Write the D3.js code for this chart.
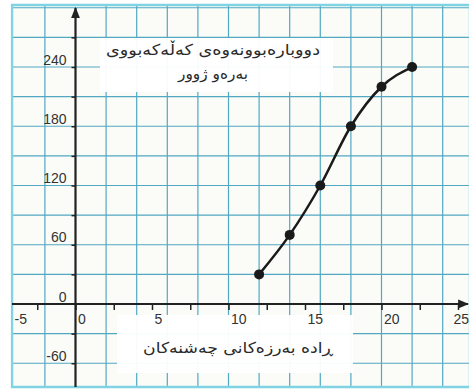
<!DOCTYPE html>
<html>
<head>
<meta charset="utf-8">
<script src="https://cdn.jsdelivr.net/npm/d3@7"></script>
<style>
  body { margin: 0; background: #fff; }
  svg { display: block; }
</style>
</head>
<body>
<svg id="chart" width="469" height="389"></svg>
<script>
// data
const rates = [12, 14, 16, 18, 20, 22];
const counts = [30, 70, 120, 180, 220, 240];
const xTickValues = [-5, -2.5, 0, 2.5, 5, 7.5, 10, 12.5, 15, 17.5, 20, 22.5, 25];
const xLabelValues = [-5, 0, 5, 10, 15, 20, 25];
const yTickValues = [-60, -30, 30, 60, 90, 120, 150, 180, 210, 240, 270];
const yLabelValues = [-60, 0, 60, 120, 180, 240];
const titleLines = ["دووبارەبوونەوەی کەڵەکەبووی", "بەرەو ژوور"];
const xTitle = "ڕادە بەرزەکانی چەشنەکان";

const svg = d3.select("#chart");

// scales
const x = d3.scaleLinear().domain([0, 25]).range([75.5, 458]);
const y = d3.scaleLinear().domain([0, 240]).range([304, 67]);

const frame = { left: 12, top: 5, right: 470, bottom: 387 };
const gridColor = "#52a7c3";

// paper
svg.append("rect")
  .attr("x", frame.left).attr("y", frame.top)
  .attr("width", frame.right - frame.left).attr("height", frame.bottom - frame.top)
  .attr("fill", "#fbfcf7");

// grid
const grid = svg.append("g").attr("stroke", gridColor).attr("stroke-width", 1.2);
grid.selectAll(".vg")
  .data(d3.range(-2, 25, 2).filter(d => d !== 0))
  .join("line")
  .attr("x1", d => x(d)).attr("x2", d => x(d))
  .attr("y1", frame.top).attr("y2", frame.bottom);
grid.selectAll(".hg")
  .data(d3.range(-60, 301, 30).filter(d => d !== 0))
  .join("line")
  .attr("x1", frame.left).attr("x2", frame.right)
  .attr("y1", d => y(d)).attr("y2", d => y(d));

// frame
svg.append("rect")
  .attr("x", frame.left).attr("y", frame.top)
  .attr("width", frame.right - frame.left).attr("height", frame.bottom - frame.top)
  .attr("fill", "none").attr("stroke", "#7fd3e3").attr("stroke-width", 2.5);

// white text boxes
svg.append("rect").attr("x", 100).attr("y", 38).attr("width", 233).attr("height", 54)
  .attr("fill", "#fff").attr("opacity", 0.95);
svg.append("rect").attr("x", 117).attr("y", 315).attr("width", 236).attr("height", 58)
  .attr("fill", "#fff").attr("opacity", 0.95);

const labelFont = "'Liberation Sans', Arial, sans-serif";

// axis lines with arrows
svg.append("defs").append("marker")
  .attr("id", "arrow").attr("viewBox", "0 0 10 10")
  .attr("refX", 9).attr("refY", 5)
  .attr("markerWidth", 5).attr("markerHeight", 5)
  .attr("orient", "auto")
  .append("path").attr("d", "M0,1 L10,5 L0,9 Z").attr("fill", "#222");

svg.append("line")
  .attr("x1", frame.left).attr("x2", 468)
  .attr("y1", y(0)).attr("y2", y(0))
  .attr("stroke", "#222").attr("stroke-width", 2.2)
  .attr("marker-end", "url(#arrow)");
svg.append("line")
  .attr("x1", x(0)).attr("x2", x(0))
  .attr("y1", frame.bottom).attr("y2", 8)
  .attr("stroke", "#222").attr("stroke-width", 2.2)
  .attr("marker-end", "url(#arrow)");

// curve
const points = rates.map((r, i) => [r, counts[i]]);
svg.append("path")
  .datum(points)
  .attr("fill", "none")
  .attr("stroke", "#1a1a1a")
  .attr("stroke-width", 2.5)
  .attr("d", d3.line().x(d => x(d[0])).y(d => y(d[1])).curve(d3.curveMonotoneX));

svg.selectAll(".dot")
  .data(points)
  .join("circle")
  .attr("cx", d => x(d[0])).attr("cy", d => y(d[1]))
  .attr("r", 5).attr("fill", "#1a1a1a");

// x axis
const xAxis = svg.append("g")
  .attr("transform", `translate(0,${y(0)})`)
  .call(d3.axisBottom(x).tickValues(xTickValues).tickSize(6)
    .tickFormat(d => xLabelValues.includes(d) ? d : ""));
xAxis.select(".domain").remove();
xAxis.selectAll(".tick line").attr("stroke", "#222").attr("stroke-width", 1.5);
xAxis.selectAll(".tick text")
  .attr("font-family", labelFont).attr("font-size", 14).attr("fill", "#333")
  .attr("text-anchor", "start")
  .attr("x", d => d === -5 ? frame.left + 2 - x(d) : (d === 25 ? -5 : 2))
  .attr("y", 10).attr("dy", "0.71em");

// y axis
const yAxis = svg.append("g")
  .attr("transform", `translate(${x(0)},0)`)
  .call(d3.axisLeft(y).tickValues(yTickValues.concat([0])).tickSize(4)
    .tickFormat(d => yLabelValues.includes(d) ? d : ""));
yAxis.select(".domain").remove();
yAxis.selectAll(".tick line").attr("stroke", "#222").attr("stroke-width", 1.5)
  .filter(d => d === 0).remove();
yAxis.selectAll(".tick text")
  .attr("font-family", labelFont).attr("font-size", 14).attr("fill", "#333")
  .attr("x", -9).attr("dy", -3);

// kurdish texts
const textFont = "'DejaVu Sans', sans-serif";
const titleWidths = [214, 70];
svg.selectAll(".title")
  .data(titleLines)
  .join("text")
  .attr("x", 213).attr("y", (d, i) => 55 + i * 24)
  .attr("direction", "rtl")
  .attr("text-anchor", "middle")
  .attr("font-family", textFont).attr("font-size", 15).attr("fill", "#2a2a2a")
  .attr("textLength", (d, i) => titleWidths[i])
  .attr("lengthAdjust", "spacingAndGlyphs")
  .text(d => d);

svg.append("text")
  .attr("x", 238).attr("y", 353)
  .attr("direction", "rtl")
  .attr("text-anchor", "middle")
  .attr("font-family", textFont).attr("font-size", 15).attr("fill", "#2a2a2a")
  .attr("textLength", 190)
  .attr("lengthAdjust", "spacingAndGlyphs")
  .text(xTitle);

// blank strip left of the paper, on top of everything
svg.append("rect").attr("x", 0).attr("y", 0).attr("width", 10.6).attr("height", 389).attr("fill", "#fff");
</script>
</body>
</html>
